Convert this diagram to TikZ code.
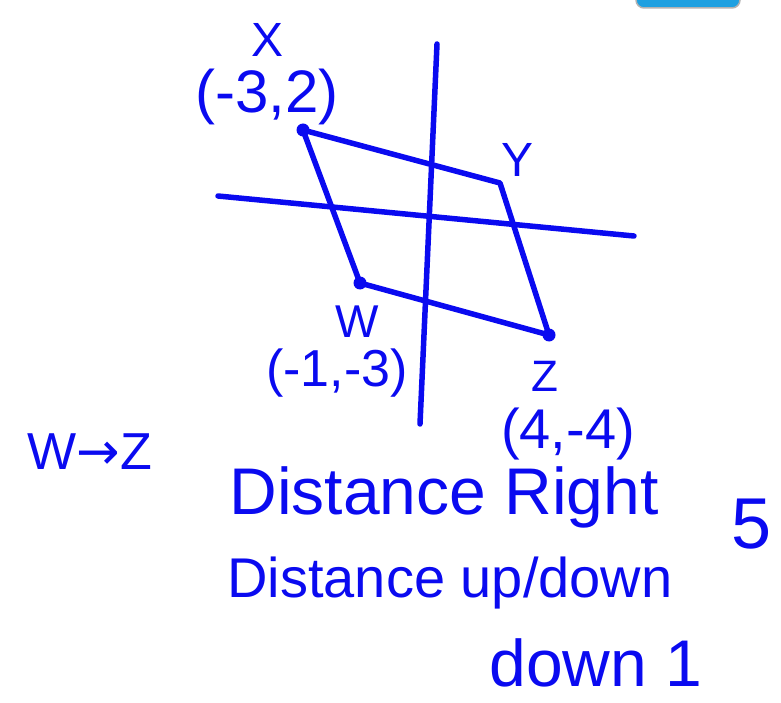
\documentclass[tikz,border=0pt]{standalone}
\usepackage{fontspec}
\setmainfont{Liberation Sans}
\newfontfamily\symfont{DejaVu Sans}
\definecolor{ink}{RGB}{10,10,240}
\definecolor{btn}{RGB}{30,160,225}
\begin{document}
\begin{tikzpicture}[x=1pt,y=-1pt,
  pen/.style={draw=ink,line width=5.5pt,line cap=round,line join=round},
  dotmark/.style={circle,fill=ink,inner sep=0pt,minimum size=13pt},
  lbl/.style={text=ink,inner sep=0pt,font=\fontsize{#1}{#1}\selectfont},
  lbl/.default=55]
\useasboundingbox (0,0) rectangle (781,703);
% partial button at top
\path[draw=gray!60,line width=1.5pt,fill=btn,rounded corners=8pt] (636,-20) rectangle (740,8);
% axes
\coordinate (vt) at (437,44);
\coordinate (vb) at (420,424);
\coordinate (hl) at (218,196);
\coordinate (hr) at (634,236);
\draw[pen] (vt) -- (vb);
\draw[pen] (hl) -- (hr);
% parallelogram
\coordinate (X) at (303,130);
\coordinate (Y) at (500,183);
\coordinate (Z) at (549,335);
\coordinate (W) at (360,283);
\draw[pen] (X) -- (Y) -- (Z) -- (W) -- cycle;
\node[dotmark] (dx) at (X) {};
\node[dotmark] (dw) at (W) {};
\node[dotmark] (dz) at (Z) {};
% labels
\node[lbl=48] (lx) at (268,40) {X};
\node[lbl=60] (cx) at (267,97) {(-3,2)};
\node[lbl=48] (ly) at (518,160) {Y};
\node[lbl=46] (lw) at (357,322) {W};
\node[lbl=52] (cw) at (337,373) {(-1,-3)};
\node[lbl=44] (lz) at (545,376) {Z};
\node[lbl=56] (cz) at (568,434) {(4,-4)};
\node[lbl=52] (wz) at (90,452) {W{\symfont→}Z};
\node[lbl=66] (dr) at (444,497) {Distance Right};
\node[lbl=72] (five) at (752,524) {5};
\node[lbl=56] (du) at (450,583) {Distance up/down};
\node[lbl=66] (d1) at (596,663) {down 1};
\end{tikzpicture}
\end{document}
